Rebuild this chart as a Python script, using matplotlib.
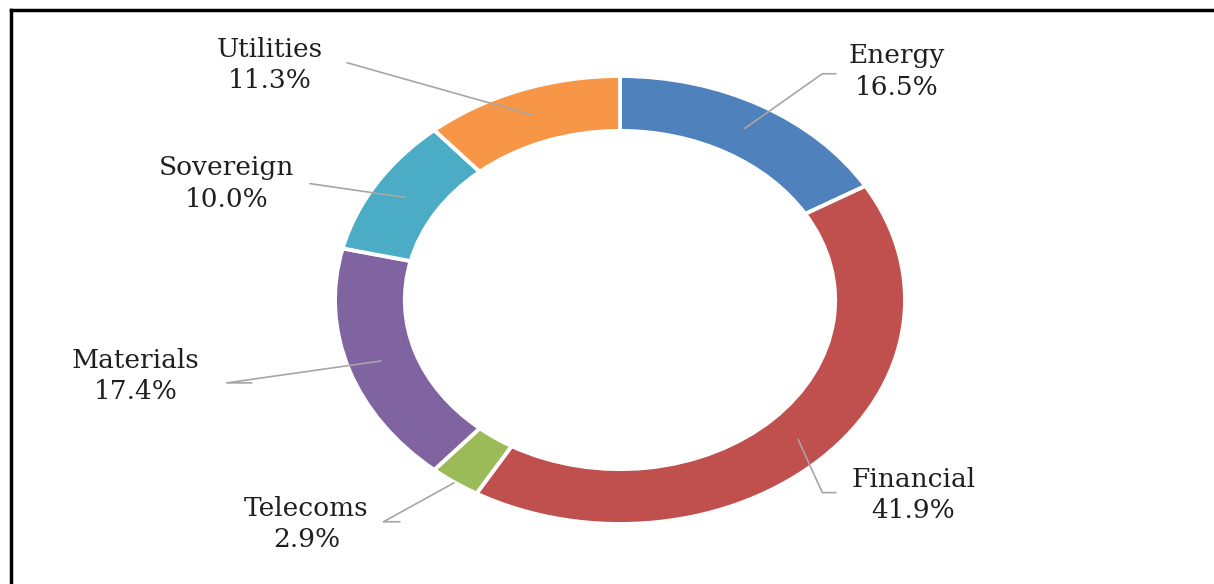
import numpy as np
import matplotlib
matplotlib.use("Agg")
import matplotlib.pyplot as plt
from matplotlib.lines import Line2D

# -----------------------------
# Data
# -----------------------------
sectors = ["Energy", "Financial", "Telecoms", "Materials", "Sovereign", "Utilities"]
shares = [16.5, 41.9, 2.9, 17.4, 10.0, 11.3]
colors = ["#4F81BD", "#C0504D", "#9BBB59", "#8064A2", "#4BACC6", "#F79646"]

# label text centres (data units, pie radius = 1) and leader elbow points
label_pos = {
    "Energy": (0.97, 1.02),
    "Financial": (1.03, -0.87),
    "Telecoms": (-1.10, -1.00),
    "Materials": (-1.70, -0.34),
    "Sovereign": (-1.38, 0.52),
    "Utilities": (-1.23, 1.05),
}
elbows = {
    "Energy": [(0.76, 1.01), (0.71, 1.01)],
    "Financial": [(0.76, -0.86), (0.71, -0.86)],
    "Telecoms": [(-0.77, -0.99), (-0.83, -0.99)],
    "Materials": [(-1.29, -0.37), (-1.38, -0.37)],
    "Sovereign": [(-1.09, 0.52)],
    "Utilities": [(-0.96, 1.06)],
}

W, H = 1214, 584
cx, cy = 620, 300          # ring centre, pixels from top-left
rx, ry = 285, 224          # outer radii in pixels (ring is stretched)

fig = plt.figure(figsize=(W / 100, H / 100), dpi=100)
ax = fig.add_axes([0, 0, 1, 1])

wedges, _ = ax.pie(shares, colors=colors, startangle=90, counterclock=False,
                   radius=1.0,
                   wedgeprops=dict(width=0.245, edgecolor="white", linewidth=2.8))
ax.set_aspect("auto")
ax.set_xlim(-cx / rx, (W - cx) / rx)
ax.set_ylim(-(H - cy) / ry, cy / ry)
ax.axis("off")

# leader lines + labels
font = dict(family="DejaVu Serif", fontsize=19, color="#1f1f1f")
for w, name, val in zip(wedges, sectors, shares):
    mid = np.deg2rad((w.theta1 + w.theta2) / 2)
    r_end = 1.0 if name == "Telecoms" else 0.88
    end = (r_end * np.cos(mid), r_end * np.sin(mid))
    pts = [end] + elbows[name][::-1]
    pts = pts[::-1]
    xs = [p[0] for p in pts]
    ys = [p[1] for p in pts]
    ax.plot(xs, ys, color="#a6a6a6", lw=1.2, zorder=5, solid_capstyle="butt")
    lx, ly = label_pos[name]
    ax.text(lx, ly, f"{name}\n{val:.1f}%", ha="center", va="center",
            linespacing=1.32, **font)

# chart frame (top and left edges visible)
y_top = 1 - 10 / H
x_left = 11 / W
fig.add_artist(Line2D([x_left, 1.0], [y_top, y_top], color="black", lw=2.5))
fig.add_artist(Line2D([x_left, x_left], [0.0, y_top], color="black", lw=2.5))

fig.savefig("out.png", dpi=100, facecolor="white")
